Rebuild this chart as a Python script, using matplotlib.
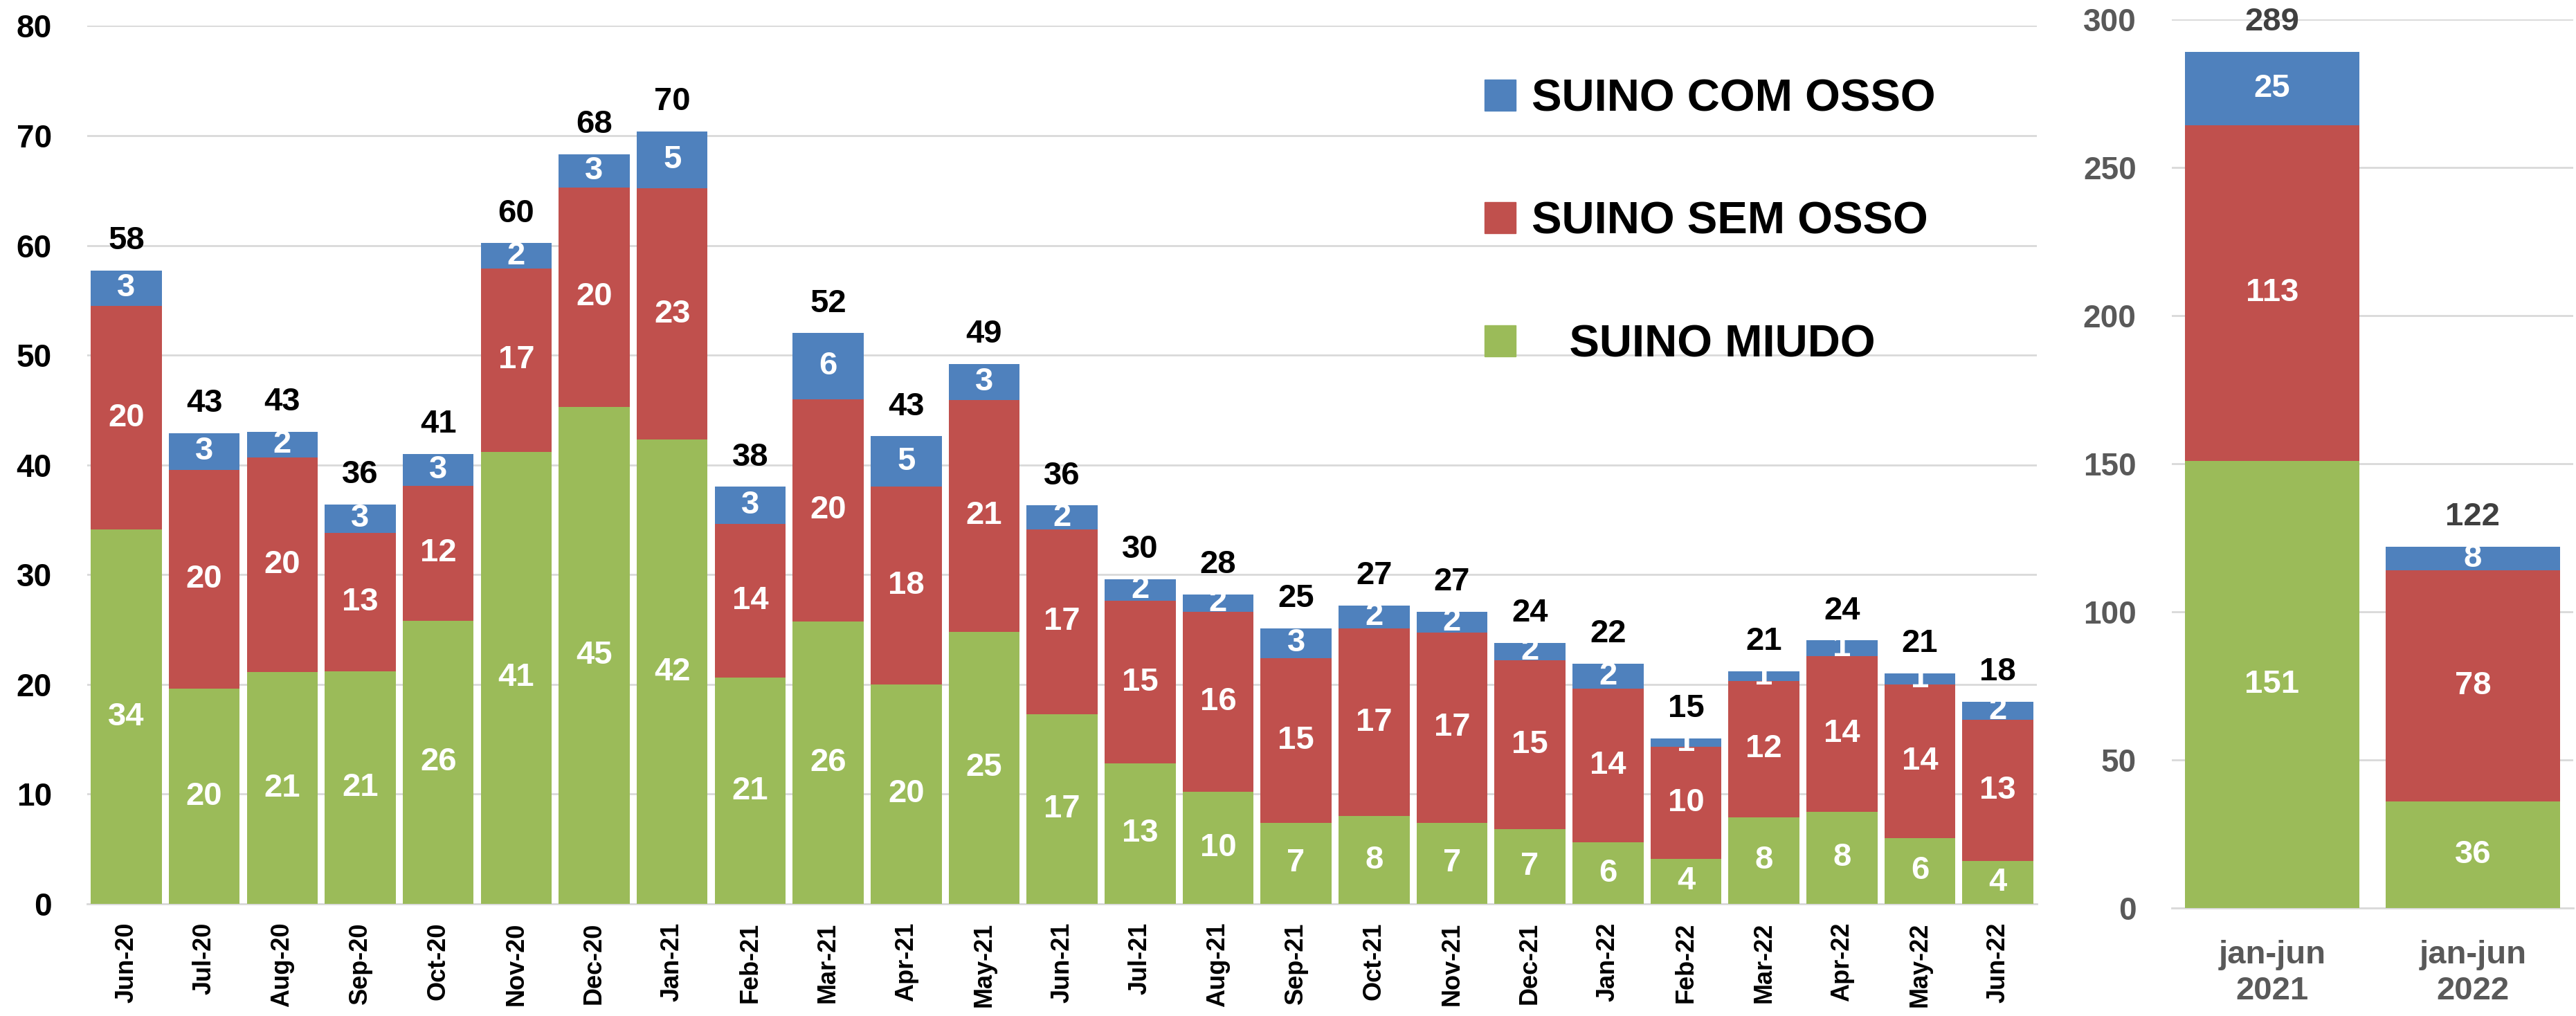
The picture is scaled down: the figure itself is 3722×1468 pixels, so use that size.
import matplotlib
matplotlib.use('Agg')
import matplotlib.pyplot as plt
from matplotlib import font_manager
from matplotlib.patches import Patch
import numpy as np

# monthly data
months = ['Jun-20', 'Jul-20', 'Aug-20', 'Sep-20', 'Oct-20', 'Nov-20', 'Dec-20',
          'Jan-21', 'Feb-21', 'Mar-21', 'Apr-21', 'May-21', 'Jun-21', 'Jul-21',
          'Aug-21', 'Sep-21', 'Oct-21', 'Nov-21', 'Dec-21', 'Jan-22', 'Feb-22',
          'Mar-22', 'Apr-22', 'May-22', 'Jun-22']
miudo = [34.1, 19.6, 21.1, 21.2, 25.8, 41.2, 45.3, 42.3, 20.6, 25.7, 20.0, 24.8, 17.3,
         12.8, 10.2, 7.4, 8.0, 7.4, 6.8, 5.6, 4.1, 7.9, 8.4, 6.0, 3.9]
sem_osso = [20.4, 19.95, 19.6, 12.6, 12.3, 16.7, 20.0, 22.9, 14.0, 20.3, 18.0, 21.1, 16.8,
            14.8, 16.4, 15.0, 17.1, 17.3, 15.4, 14.0, 10.2, 12.4, 14.2, 14.0, 12.9]
com_osso = [3.2, 3.35, 2.3, 2.6, 2.9, 2.3, 3.0, 5.2, 3.4, 6.0, 4.6, 3.3, 2.2,
            2.0, 1.6, 2.7, 2.1, 1.9, 1.6, 2.3, 0.8, 0.9, 1.4, 1.0, 1.6]

# semester totals
periods = ['jan-jun\n2021', 'jan-jun\n2022']
miudo_sem = [151.0, 35.9]
sem_osso_sem = [113.3, 78.1]
com_osso_sem = [24.8, 7.9]

GREEN = '#9BBB59'
RED = '#C0504D'
BLUE = '#4F81BD'
GRID = '#D9D9D9'
GREY = '#595959'

names = {f.name for f in font_manager.fontManager.ttflist}
if 'Liberation Sans Narrow' in names:
    MONTH_FONT, MONTH_SIZE = 'Liberation Sans Narrow', 30
else:
    MONTH_FONT, MONTH_SIZE = 'Liberation Sans', 26

plt.rcParams['font.family'] = ['Liberation Sans', 'DejaVu Sans']
plt.rcParams['font.weight'] = 'bold'

LBL = 34


def stacked(ax, x, layers, colors, width):
    bottom = np.zeros(len(x))
    for vals, c in zip(layers, colors):
        vals = np.array(vals)
        ax.bar(x, vals, width, bottom=bottom, color=c, edgecolor='none', zorder=3)
        for xi, b, v in zip(x, bottom, vals):
            ax.text(xi, b + v / 2, f'{v:.0f}', ha='center', va='center',
                    color='white', fontsize=LBL, fontweight='bold', zorder=4)
        bottom = bottom + vals
    return bottom


fig = plt.figure(figsize=(37.22, 14.68), dpi=100)

# left panel: monthly
ax = fig.add_axes([0.0339, 0.1104, 0.7568, 0.8641])
x = np.arange(len(months))
tot = stacked(ax, x, [miudo, sem_osso, com_osso], [GREEN, RED, BLUE], 0.91)
for xi, t in zip(x, tot):
    ax.annotate(f'{t:.0f}', (xi, t), xytext=(0, 15), textcoords='offset points',
                ha='center', va='bottom', fontsize=LBL, fontweight='bold', color='black')
ax.set_xlim(-0.5, len(months) - 0.5)
ax.set_ylim(0, 80)
ax.set_yticks(range(0, 81, 10))
ax.tick_params(axis='y', length=0, labelsize=33, pad=37, labelcolor='black')
ax.set_xticks(x)
ax.set_xticklabels(months, rotation=90, fontsize=MONTH_SIZE, fontweight='bold', family=MONTH_FONT)
ax.tick_params(axis='x', length=0, pad=19)
ax.grid(axis='y', color=GRID, linewidth=2, zorder=0)
for s in ['top', 'right', 'left']:
    ax.spines[s].set_visible(False)
ax.spines['bottom'].set_color(GRID)
ax.spines['bottom'].set_linewidth(2)

handles = [Patch(color=BLUE), Patch(color=RED), Patch(color=GREEN)]
labels = ['SUINO COM OSSO', 'SUINO SEM OSSO', '   SUINO MIUDO']
ax.legend(handles, labels, loc='upper left', bbox_to_anchor=(0.5763, 0.923),
          bbox_transform=fig.transFigure, frameon=False,
          handlelength=0.69, handleheight=0.69, handletextpad=0.35,
          labelspacing=1.8, borderpad=0, borderaxespad=0,
          prop={'weight': 'bold', 'size': 47})

# right panel: semesters
ax2 = fig.add_axes([0.8431, 0.1063, 0.1558, 0.8747])
x2 = np.arange(len(periods))
tot2 = stacked(ax2, x2, [miudo_sem, sem_osso_sem, com_osso_sem], [GREEN, RED, BLUE], 0.87)
for xi, t in zip(x2, tot2):
    ax2.annotate(f'{t:.0f}', (xi, t), xytext=(0, 15), textcoords='offset points',
                 ha='center', va='bottom', fontsize=LBL, fontweight='bold',
                 color='#404040', annotation_clip=False)
ax2.set_xlim(-0.5, 1.5)
ax2.set_ylim(0, 300)
ax2.set_yticks(range(0, 301, 50))
ax2.tick_params(axis='y', length=0, labelsize=33, pad=37, labelcolor=GREY)
ax2.set_xticks(x2)
ax2.set_xticklabels(periods, fontsize=34, fontweight='bold', color=GREY, linespacing=1.25)
ax2.tick_params(axis='x', length=0, pad=33)
ax2.grid(axis='y', color=GRID, linewidth=2, zorder=0)
for s in ['top', 'right', 'left']:
    ax2.spines[s].set_visible(False)
ax2.spines['bottom'].set_color(GRID)
ax2.spines['bottom'].set_linewidth(2)

fig.savefig('out.png', dpi=100)
